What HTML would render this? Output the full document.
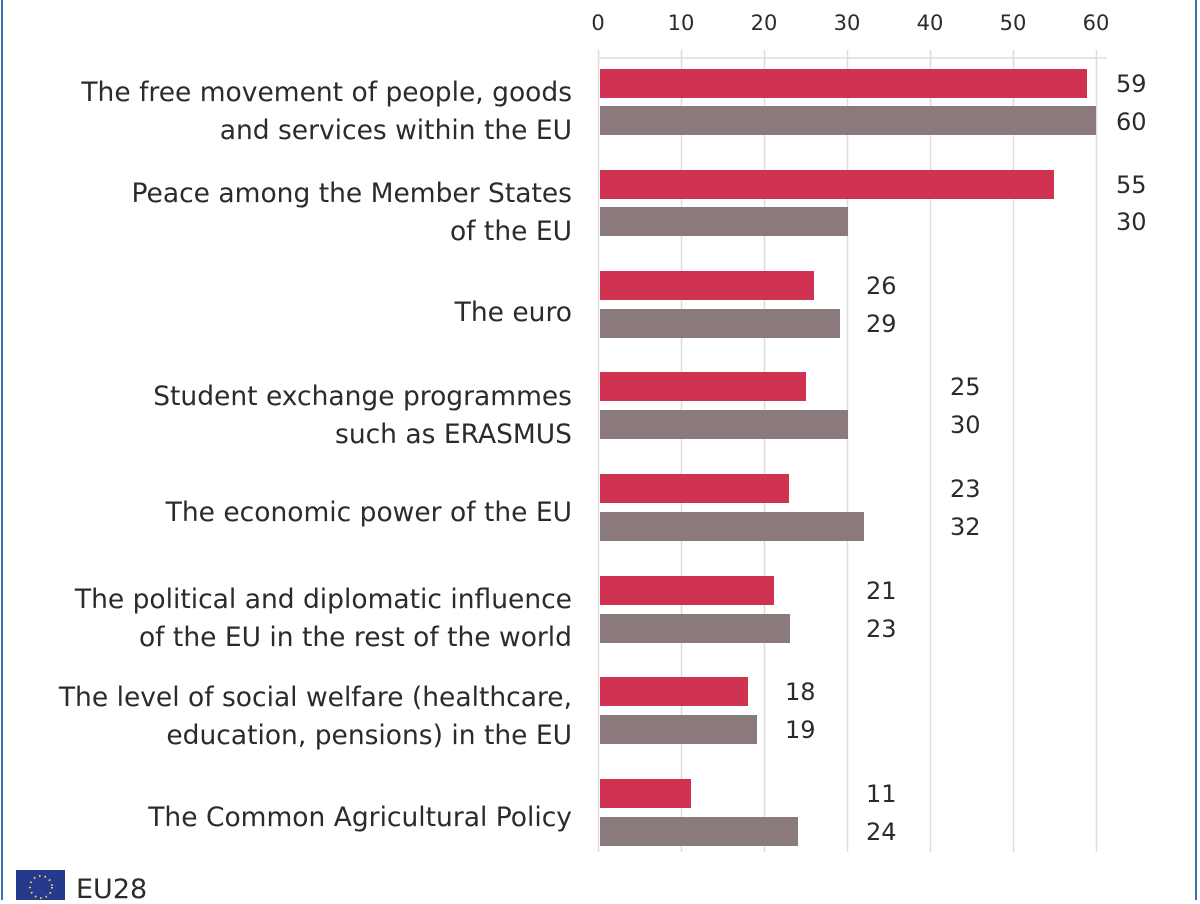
<!DOCTYPE html>
<html><head><meta charset="utf-8"><style>
body{margin:0;width:1200px;height:900px;background:#fff;overflow:hidden;font-family:"DejaVu Sans","Liberation Sans",sans-serif;color:#2b2b2b}
svg text{font-family:"DejaVu Sans","Liberation Sans",sans-serif}
</style></head><body>
<svg width="1200" height="900" xmlns="http://www.w3.org/2000/svg">
<rect x="1" y="0" width="2" height="900" fill="#3d6fb0"/>
<rect x="1195" y="0" width="2" height="900" fill="#3d6fb0"/>
<line x1="598" y1="58" x2="1107" y2="58" stroke="#ddd" stroke-width="1.5"/>
<g stroke="#ddd" stroke-width="1.5">
<line x1="598.5" y1="50" x2="598.5" y2="852"/>
<line x1="681.5" y1="50" x2="681.5" y2="852"/>
<line x1="764.5" y1="50" x2="764.5" y2="852"/>
<line x1="847.5" y1="50" x2="847.5" y2="852"/>
<line x1="930.5" y1="50" x2="930.5" y2="852"/>
<line x1="1013.5" y1="50" x2="1013.5" y2="852"/>
<line x1="1096.5" y1="50" x2="1096.5" y2="852"/>
</g>
<g font-size="21" text-anchor="middle" fill="#2b2b2b">
<text x="598" y="30">0</text><text x="681" y="30">10</text><text x="764" y="30">20</text><text x="847" y="30">30</text><text x="930" y="30">40</text><text x="1013" y="30">50</text><text x="1096" y="30">60</text>
</g>
<g fill="#d03352">
<rect x="600" y="69" width="487" height="29"/>
<rect x="600" y="170" width="454" height="29"/>
<rect x="600" y="271" width="214" height="29"/>
<rect x="600" y="372" width="206" height="29"/>
<rect x="600" y="474" width="189" height="29"/>
<rect x="600" y="576" width="174" height="29"/>
<rect x="600" y="677" width="148" height="29"/>
<rect x="600" y="779" width="91" height="29"/>
</g>
<g fill="#8b7a7c">
<rect x="600" y="106" width="496" height="29"/>
<rect x="600" y="207" width="248" height="29"/>
<rect x="600" y="309" width="240" height="29"/>
<rect x="600" y="410" width="248" height="29"/>
<rect x="600" y="512" width="264" height="29"/>
<rect x="600" y="614" width="190" height="29"/>
<rect x="600" y="715" width="157" height="29"/>
<rect x="600" y="817" width="198" height="29"/>
</g>
<g font-size="24" fill="#2b2b2b">
<text x="1116" y="92">59</text><text x="1116" y="130">60</text>
<text x="1116" y="193">55</text><text x="1116" y="230">30</text>
<text x="866" y="294">26</text><text x="866" y="332">29</text>
<text x="950" y="395">25</text><text x="950" y="433">30</text>
<text x="950" y="497">23</text><text x="950" y="535">32</text>
<text x="866" y="599">21</text><text x="866" y="637">23</text>
<text x="785" y="700">18</text><text x="785" y="738">19</text>
<text x="866" y="802">11</text><text x="866" y="840">24</text>
</g>
<g font-size="26.5" text-anchor="end" fill="#2b2b2b">
<text x="572" y="101">The free movement of people, goods</text>
<text x="572" y="139">and services within the EU</text>
<text x="572" y="202">Peace among the Member States</text>
<text x="572" y="240">of the EU</text>
<text x="572" y="321">The euro</text>
<text x="572" y="405">Student exchange programmes</text>
<text x="572" y="443">such as ERASMUS</text>
<text x="572" y="521">The economic power of the EU</text>
<text x="572" y="608">The political and diplomatic influence</text>
<text x="572" y="646">of the EU in the rest of the world</text>
<text x="572" y="706">The level of social welfare (healthcare,</text>
<text x="572" y="744">education, pensions) in the EU</text>
<text x="572" y="826">The Common Agricultural Policy</text>
</g>
<rect x="16" y="870" width="49" height="35" fill="#253a8c"/>
<circle cx="41" cy="887" r="11" fill="none" stroke="#e8d84a" stroke-width="2" stroke-dasharray="1.5 4"/>
<text x="76" y="898" font-size="27" fill="#2b2b2b">EU28</text>
</svg>
</body></html>
